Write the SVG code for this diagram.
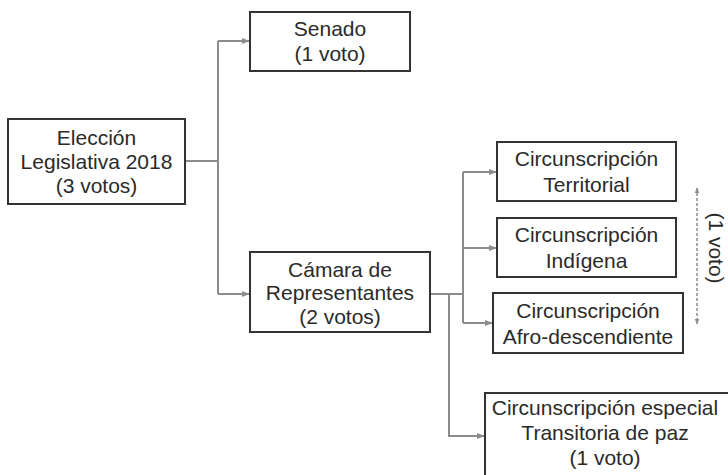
<svg xmlns="http://www.w3.org/2000/svg" width="728" height="475" viewBox="0 0 728 475">
<style>
.box{fill:#fff;stroke:#333;stroke-width:2}
.t{font-family:"Liberation Sans",Arial,sans-serif;font-size:21px;fill:#2a2a2a;text-anchor:middle}
.c{fill:none;stroke:#8c8c8c;stroke-width:2}
</style>
<defs>
<marker id="ah" viewBox="0 0 10 10" refX="9" refY="5" markerWidth="4" markerHeight="4" orient="auto-start-reverse">
<path d="M0,1 L10,5 L0,9 z" fill="#8c8c8c"/>
</marker>
</defs>
<rect width="728" height="475" fill="#fff"/>
<g id="connectors">
<path class="c" d="M185,161 H218"/>
<path class="c" d="M218,41 V294"/>
<path class="c" d="M218,41 H249" marker-end="url(#ah)"/>
<path class="c" d="M218,294 H249" marker-end="url(#ah)"/>
<path class="c" d="M430,294 H463"/>
<path class="c" d="M463,172 V323"/>
<path class="c" d="M463,172 H496" marker-end="url(#ah)"/>
<path class="c" d="M463,248 H496" marker-end="url(#ah)"/>
<path class="c" d="M463,323 H492" marker-end="url(#ah)"/>
<path class="c" d="M449,294 V436 H484" marker-end="url(#ah)"/>
<path d="M697,188 V324" fill="none" stroke="#8c8c8c" stroke-width="1.5" stroke-dasharray="3,2" marker-start="url(#ah)" marker-end="url(#ah)"/>
</g>
<g id="eleccion">
<rect class="box" x="8" y="119" width="177" height="85"/>
<text class="t" x="96.5" y="145">Elección</text>
<text class="t" x="96.5" y="169">Legislativa 2018</text>
<text class="t" x="96.5" y="193">(3 votos)</text>
</g>
<g id="senado">
<rect class="box" x="250" y="12" width="160" height="59"/>
<text class="t" x="330" y="36">Senado</text>
<text class="t" x="330" y="61">(1 voto)</text>
</g>
<g id="camara">
<rect class="box" x="250" y="252" width="180" height="80"/>
<text class="t" x="340" y="277">Cámara de</text>
<text class="t" x="340" y="300">Representantes</text>
<text class="t" x="340" y="324">(2 votos)</text>
</g>
<g id="territorial">
<rect class="box" x="497" y="142" width="179" height="59"/>
<text class="t" x="586.5" y="166">Circunscripción</text>
<text class="t" x="586.5" y="192">Territorial</text>
</g>
<g id="indigena">
<rect class="box" x="497" y="218" width="179" height="59"/>
<text class="t" x="586.5" y="242">Circunscripción</text>
<text class="t" x="586.5" y="268">Indígena</text>
</g>
<g id="afro">
<rect class="box" x="493" y="293" width="190" height="60"/>
<text class="t" x="588" y="318">Circunscripción</text>
<text class="t" x="588" y="344">Afro-descendiente</text>
</g>
<g id="especial">
<rect class="box" x="485" y="393" width="250" height="90"/>
<text class="t" x="605" y="415">Circunscripción especial</text>
<text class="t" x="605" y="440">Transitoria de paz</text>
<text class="t" x="605" y="465">(1 voto)</text>
</g>
<g id="un-voto">
<text class="t" transform="translate(709,248) rotate(90)">(1 voto)</text>
</g>
</svg>
